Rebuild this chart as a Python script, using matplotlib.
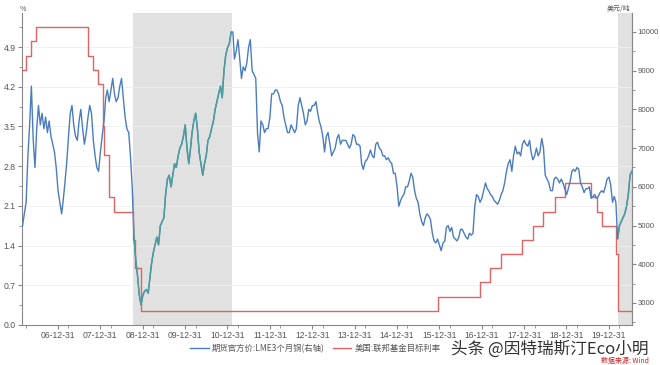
import datetime as dt

import matplotlib
matplotlib.use("Agg")
import matplotlib.dates as mdates
import matplotlib.pyplot as plt
from matplotlib.ticker import MultipleLocator

plt.rcParams["font.family"] = ["Noto Sans CJK SC", "DejaVu Sans"]

# LME 3-month copper, USD/t, read twice a month (1st, 16th) from Mar 2006 to Jul 2020
copper_start = (2006, 3)
copper = [
    5000, 5300, 5600, 6800, 7600, 8600, 7200, 6500, 7500, 8100,              # 2006 Mar-Jul
    7600, 7900, 7500, 7800, 7400, 7700, 7300, 7100, 6900, 6500,              # 2006 Aug-Dec
    5900, 5600, 5300, 5700, 6100, 6600, 7300, 7900, 8100, 7600, 7300, 7200,  # 2007 Jan-Jun
    7700, 8000, 7500, 7100, 7400, 7800, 8100, 7900, 7200, 6800, 6500, 6400,  # 2007 Jul-Dec
    6900, 7300, 7700, 8300, 8500, 8200, 8500, 8800, 8400, 8200, 8300, 8600,  # 2008 Jan-Jun
    8800, 8300, 7800, 7500, 7400, 6800, 6000, 4700, 4100, 3700, 3200, 2950,  # 2008 Jul-Dec
    3200, 3300, 3350, 3250, 3600, 4000, 4300, 4500, 4700, 4500, 5000, 5100,  # 2009 Jan-Jun
    5200, 5800, 6200, 6300, 6000, 6300, 6600, 6500, 6800, 7000, 7100, 7300,  # 2009 Jul-Dec
    7600, 7000, 6600, 7000, 7400, 7700, 7900, 7500, 6900, 6600, 6300, 6600,  # 2010 Jan-Jun
    6800, 7200, 7300, 7500, 7700, 8000, 8200, 8400, 8600, 8300, 9000, 9400,  # 2010 Jul-Dec
    9600, 9700, 10000, 10000, 9300, 9500, 9800, 9300, 8800, 9100, 9000, 9200,  # 2011 Jan-Jun
    9600, 9800, 9000, 8900, 8800, 7400, 6900, 7700, 7600, 7400, 7500, 7500,  # 2011 Jul-Dec
    7800, 8400, 8400, 8500, 8500, 8400, 8200, 8100, 7800, 7600, 7400, 7400,  # 2012 Jan-Jun
    7600, 7500, 7400, 7500, 8100, 8300, 8100, 7900, 7600, 7700, 8000, 7950,  # 2012 Jul-Dec
    8100, 8100, 8200, 7900, 7700, 7550, 7300, 6900, 7300, 7400, 7100, 6800,  # 2013 Jan-Jun
    6900, 7000, 7250, 7350, 7100, 7200, 7200, 7200, 7100, 7000, 7100, 7350,  # 2013 Jul-Dec
    7300, 7100, 7100, 7050, 6600, 6450, 6650, 6700, 6800, 6950, 6800, 6750,  # 2014 Jan-Jun
    7100, 7150, 7000, 6950, 6800, 6800, 6700, 6750, 6650, 6600, 6350, 6350,  # 2014 Jul-Dec
    6000, 5500, 5650, 5750, 5800, 6000, 6000, 6150, 6350, 6250, 5900, 5700,  # 2015 Jan-Jun
    5600, 5300, 5100, 5000, 5200, 5300, 5250, 5150, 4800, 4600, 4550, 4650,  # 2015 Jul-Dec
    4500, 4350, 4550, 4600, 4950, 5000, 4850, 4950, 4700, 4650, 4600, 4700,  # 2016 Jan-Jun
    4900, 4900, 4800, 4700, 4650, 4800, 4750, 4800, 5500, 5800, 5750, 5600,  # 2016 Jul-Dec
    5700, 5900, 6100, 5950, 5900, 5800, 5750, 5650, 5600, 5550, 5650, 5800,  # 2017 Jan-Jun
    5900, 6100, 6400, 6600, 6700, 6400, 6800, 7050, 6850, 6900, 6800, 7100,  # 2017 Jul-Dec
    7200, 7100, 7050, 7200, 6900, 6700, 6800, 7000, 6800, 6900, 7250, 7000,  # 2018 Jan-Jun
    6300, 6200, 6100, 5900, 5900, 6200, 6250, 6200, 6100, 6200, 6100, 5950,  # 2018 Jul-Dec
    5800, 5950, 6150, 6400, 6450, 6400, 6500, 6450, 6100, 6000, 5850, 5950,  # 2019 Jan-Jun
    5950, 6000, 5700, 5750, 5800, 5700, 5750, 5850, 5900, 5850, 6000, 6200,  # 2019 Jul-Dec
    6250, 6050, 5600, 5750, 5600, 4650, 5000, 5100, 5200, 5300, 5500, 5800,  # 2020 Jan-Jun
    6300, 6400,                                                              # 2020 Jul
]

# US federal funds target rate (%), effective dates of changes
fed_dates = [
    "2006-01-31", "2006-03-28", "2006-05-10", "2006-06-29", "2007-09-18",
    "2007-10-31", "2007-12-11", "2008-01-22", "2008-01-30", "2008-03-18",
    "2008-04-30", "2008-10-08", "2008-10-29", "2008-12-16", "2015-12-16",
    "2016-12-14", "2017-03-15", "2017-06-14", "2017-12-13", "2018-03-21",
    "2018-06-13", "2018-09-26", "2018-12-19", "2019-07-31", "2019-09-18",
    "2019-10-30", "2020-03-03", "2020-03-15", "2020-07-20",
]
fed_rate = [
    4.50, 4.75, 5.00, 5.25, 4.75, 4.50, 4.25, 3.50, 3.00, 2.25,
    2.00, 1.50, 1.00, 0.25, 0.50, 0.75, 1.00, 1.25, 1.50, 1.75,
    2.00, 2.25, 2.50, 2.25, 2.00, 1.75, 1.25, 0.25, 0.25,
]

shaded = [("2008-10-07", "2011-02-05"), ("2020-03-15", "2020-07-20")]
year_ticks = list(range(2006, 2020))

copper_dates = []
y, m = copper_start
for i in range(len(copper)):
    copper_dates.append(dt.date(y, m, 1 if i % 2 == 0 else 16))
    if i % 2 == 1:
        m += 1
        if m > 12:
            y, m = y + 1, 1
fed_x = [dt.date.fromisoformat(d) for d in fed_dates]

BLUE = "#4a7cc0"
TEAL = "#4a9f9a"
RED = "#e06464"
GREY = "#555555"

fig = plt.figure(figsize=(6.6, 3.65), dpi=100)
ax = fig.add_axes([0.0333, 0.1096, 0.9243, 0.8548])
ax2 = ax.twinx()

spans = []
for a, b in shaded:
    ax.axvspan(dt.date.fromisoformat(a), dt.date.fromisoformat(b),
               color="#e1e1e1", lw=0, zorder=0)
    spans.append(ax2.axvspan(dt.date.fromisoformat(a), dt.date.fromisoformat(b),
                             alpha=0, lw=0))

ax.plot(fed_x, fed_rate, drawstyle="steps-post", color=RED, lw=1.0, zorder=3)
ax2.plot(copper_dates, copper, color=BLUE, lw=1.0)
for sp in spans:
    ln, = ax2.plot(copper_dates, copper, color=TEAL, lw=1.0)
    ln.set_clip_path(sp)

ax.set_xlim(dt.date(2006, 2, 24), dt.date(2020, 7, 18))
ax.set_ylim(0, 5.5)
ax2.set_ylim(2430, 10490)

ax.yaxis.set_major_locator(MultipleLocator(0.7))
ax.yaxis.set_minor_locator(MultipleLocator(0.35))
ax.yaxis.set_major_formatter(lambda v, p: f"{v:.1f}" if v < 5.0 else "")
ax2.yaxis.set_major_locator(MultipleLocator(1000))
ax2.yaxis.set_minor_locator(MultipleLocator(500))
ax2.yaxis.set_major_formatter(lambda v, p: f"{v:.0f}" if 3000 <= v <= 10000 else "")

ax.set_xticks([dt.date(yr, 12, 31) for yr in year_ticks])
ax.set_xticklabels([f"{yr % 100:02d}-12-31" for yr in year_ticks])
ax.xaxis.set_minor_locator(mdates.MonthLocator(bymonth=[3, 6, 9, 12], bymonthday=31))

ax.grid(axis="y", color="#efefef", lw=0.6)
ax.set_axisbelow(True)

for a in (ax, ax2):
    a.spines["top"].set_visible(False)
    for s in ("left", "right", "bottom"):
        a.spines[s].set_color("#888888")
        a.spines[s].set_linewidth(0.8)
    a.tick_params(which="both", colors="#888888", labelcolor=GREY, labelsize=6.2,
                  direction="out", pad=1.5, labelfontfamily="Liberation Sans")
    a.tick_params(which="major", length=3)
    a.tick_params(which="minor", length=2)
ax2.tick_params(axis="y", labelsize=5.6, pad=1)
ax2.spines["left"].set_visible(False)
ax2.spines["bottom"].set_visible(False)

fig.text(0.030, 0.965, "%", fontsize=5, color=GREY, ha="left", va="bottom")
fig.text(0.955, 0.965, "美元/吨", fontsize=5, color=GREY, ha="right", va="bottom")

h1, = ax.plot([], [], color=BLUE, lw=1.0)
h2, = ax.plot([], [], color=RED, lw=1.0)
fig.legend([h1, h2], ["期货官方价:LME3个月铜(右轴)", "美国:联邦基金目标利率"],
           loc="center", bbox_to_anchor=(0.478, 0.045), ncol=2, frameon=False,
           fontsize=6, handlelength=2.2, columnspacing=1.0, handletextpad=0.4,
           labelcolor=GREY)

fig.text(0.983, 0.043, "头条 @因特瑞斯汀Eco小明", fontsize=12, color="#333333",
         ha="right", va="center")
fig.text(0.983, 0.010, "数据来源: Wind", fontsize=5, color="#d02020",
         style="italic", ha="right", va="center")

fig.savefig("out.png", dpi=100)
